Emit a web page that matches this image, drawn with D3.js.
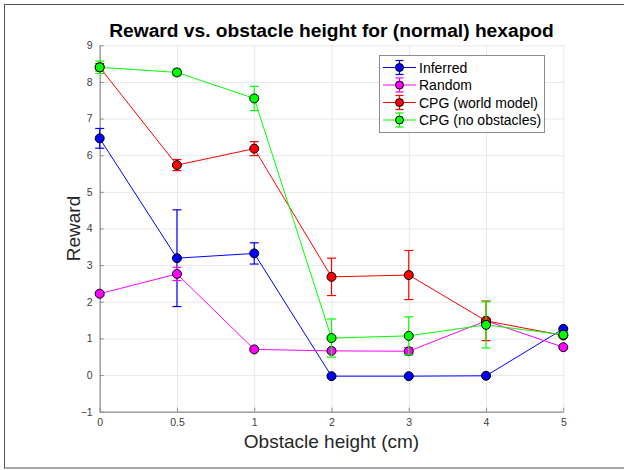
<!DOCTYPE html>
<html>
<head>
<meta charset="utf-8">
<script src="https://cdn.jsdelivr.net/npm/d3@7"></script>
<style>
  body { margin: 0; background: #fff; }
  svg { display: block; font-family: "Liberation Sans", Arial, Helvetica, sans-serif; }
</style>
</head>
<body>
<svg id="chart"></svg>
<script>
// data
const xLabels = ["0", "0.5", "1", "2", "3", "4", "5"];
const yTicks = [-1, 0, 1, 2, 3, 4, 5, 6, 7, 8, 9];

const inferred = [6.46, 3.19, 3.32, -0.03, -0.03, -0.02, 1.26];
const inferredErr = [0.27, 1.32, 0.29, 0.02, 0.02, 0.02, 0.02];

const random = [2.22, 2.76, 0.70, 0.66, 0.65, 1.48, 0.76];
const randomErr = [0.05, 0.18, 0.03, 0.03, 0.10, 0.05, 0.03];

const cpgWorld = [8.40, 5.73, 6.18, 2.68, 2.73, 1.48, 1.08];
const cpgWorldErr = [0.10, 0.15, 0.19, 0.51, 0.67, 0.54, 0.03];

const cpgNoObs = [8.40, 8.26, 7.55, 1.01, 1.07, 1.37, 1.10];
const cpgNoObsErr = [0.17, 0.09, 0.33, 0.52, 0.52, 0.63, 0.05];

const series = [
  { name: "Inferred", values: inferred, err: inferredErr, color: "#0000ff" },
  { name: "Random", values: random, err: randomErr, color: "#ff00ff" },
  { name: "CPG (world model)", values: cpgWorld, err: cpgWorldErr, color: "#ff0000" },
  { name: "CPG (no obstacles)", values: cpgNoObs, err: cpgNoObsErr, color: "#00ff00" }
];

const width = 624, height = 470;
const plot = { left: 99.7, right: 563.3, top: 45.3, bottom: 411.7 };

const svg = d3.select("#chart").attr("width", width).attr("height", height);

// outer frame
svg.append("rect")
  .attr("x", 4.5).attr("y", 4.5)
  .attr("width", width).attr("height", 463.5)
  .attr("fill", "none").attr("stroke", "#555");

const x = d3.scaleLinear().domain([0, xLabels.length - 1]).range([plot.left, plot.right]);
const y = d3.scaleLinear().domain([-1, 9]).range([plot.bottom, plot.top]);

// grid
svg.append("g")
  .attr("transform", `translate(0,${plot.bottom})`)
  .call(d3.axisBottom(x).tickValues(d3.range(xLabels.length)).tickSize(-(plot.bottom - plot.top)).tickFormat(""))
  .call(g => g.select(".domain").remove())
  .call(g => g.selectAll("line").attr("stroke", "#e8e8e8"));

svg.append("g")
  .attr("transform", `translate(${plot.left},0)`)
  .call(d3.axisLeft(y).tickValues(yTicks).tickSize(-(plot.right - plot.left)).tickFormat(""))
  .call(g => g.select(".domain").remove())
  .call(g => g.selectAll("line").attr("stroke", "#e8e8e8"));

// axes, MATLAB style ticks pointing inward
const xAxis = svg.append("g")
  .attr("transform", `translate(0,${plot.bottom})`)
  .call(d3.axisBottom(x).tickValues(d3.range(xLabels.length))
    .tickFormat(i => xLabels[i]).tickSizeInner(-4).tickSizeOuter(0).tickPadding(7));

const yAxis = svg.append("g")
  .attr("transform", `translate(${plot.left},0)`)
  .call(d3.axisLeft(y).tickValues(yTicks).tickSizeInner(-4).tickSizeOuter(0).tickPadding(7));

[xAxis, yAxis].forEach(g => {
  g.select(".domain").attr("stroke", "#8c8c8c").attr("stroke-width", 1.2);
  g.selectAll(".tick line").attr("stroke", "#8c8c8c");
  g.selectAll("text").attr("fill", "#404040").style("font-size", "10.5px");
});

// series
const line = d3.line().x((d, i) => x(i)).y(d => y(d));
const cap = 4.5;

series.forEach(s => {
  const g = svg.append("g");

  g.append("path")
    .datum(s.values)
    .attr("fill", "none")
    .attr("stroke", s.color)
    .attr("stroke-width", 1)
    .attr("d", line);

  const eb = g.selectAll(".err").data(s.values).enter().append("g");
  eb.append("line")
    .attr("x1", (d, i) => x(i)).attr("x2", (d, i) => x(i))
    .attr("y1", (d, i) => y(d - s.err[i])).attr("y2", (d, i) => y(d + s.err[i]))
    .attr("stroke", s.color).attr("stroke-width", 1.2);
  eb.append("line")
    .attr("x1", (d, i) => x(i) - cap).attr("x2", (d, i) => x(i) + cap)
    .attr("y1", (d, i) => y(d + s.err[i])).attr("y2", (d, i) => y(d + s.err[i]))
    .attr("stroke", s.color).attr("stroke-width", 1.2);
  eb.append("line")
    .attr("x1", (d, i) => x(i) - cap).attr("x2", (d, i) => x(i) + cap)
    .attr("y1", (d, i) => y(d - s.err[i])).attr("y2", (d, i) => y(d - s.err[i]))
    .attr("stroke", s.color).attr("stroke-width", 1.2);

  g.selectAll("circle").data(s.values).enter().append("circle")
    .attr("cx", (d, i) => x(i))
    .attr("cy", d => y(d))
    .attr("r", 4.5)
    .attr("fill", s.color)
    .attr("stroke", "#000")
    .attr("stroke-width", 1);
});

// legend
const lg = svg.append("g").attr("transform", "translate(379,55)");
lg.append("rect")
  .attr("x", 0.5).attr("y", 0.5)
  .attr("width", 165).attr("height", 77)
  .attr("fill", "#fff").attr("stroke", "#8c8c8c");

series.forEach((s, i) => {
  const row = lg.append("g").attr("transform", `translate(0,${12.5 + i * 17.5})`);
  row.append("line").attr("x1", 4).attr("x2", 37).attr("y1", 0).attr("y2", 0)
    .attr("stroke", s.color).attr("stroke-width", 1);
  row.append("line").attr("x1", 20.5).attr("x2", 20.5).attr("y1", -7).attr("y2", 7)
    .attr("stroke", s.color).attr("stroke-width", 1.2);
  [-7, 7].forEach(dy => row.append("line")
    .attr("x1", 16.5).attr("x2", 24.5).attr("y1", dy).attr("y2", dy)
    .attr("stroke", s.color).attr("stroke-width", 1.2));
  row.append("circle").attr("cx", 20.5).attr("cy", 0).attr("r", 4)
    .attr("fill", s.color).attr("stroke", "#000");
  row.append("text").attr("x", 40).attr("y", 5)
    .style("font-size", "14px").attr("fill", "#000")
    .text(s.name);
});

// title and axis labels
svg.append("text")
  .attr("x", (plot.left + plot.right) / 2).attr("y", 37)
  .attr("text-anchor", "middle")
  .style("font-size", "19.2px").style("font-weight", "bold")
  .text("Reward vs. obstacle height for (normal) hexapod");

svg.append("text")
  .attr("x", (plot.left + plot.right) / 2).attr("y", 448)
  .attr("text-anchor", "middle")
  .style("font-size", "19px").attr("fill", "#262626")
  .text("Obstacle height (cm)");

svg.append("text")
  .attr("transform", `translate(80,${(plot.top + plot.bottom) / 2}) rotate(-90)`)
  .attr("text-anchor", "middle")
  .style("font-size", "19px").attr("fill", "#262626")
  .text("Reward");
</script>
</body>
</html>
